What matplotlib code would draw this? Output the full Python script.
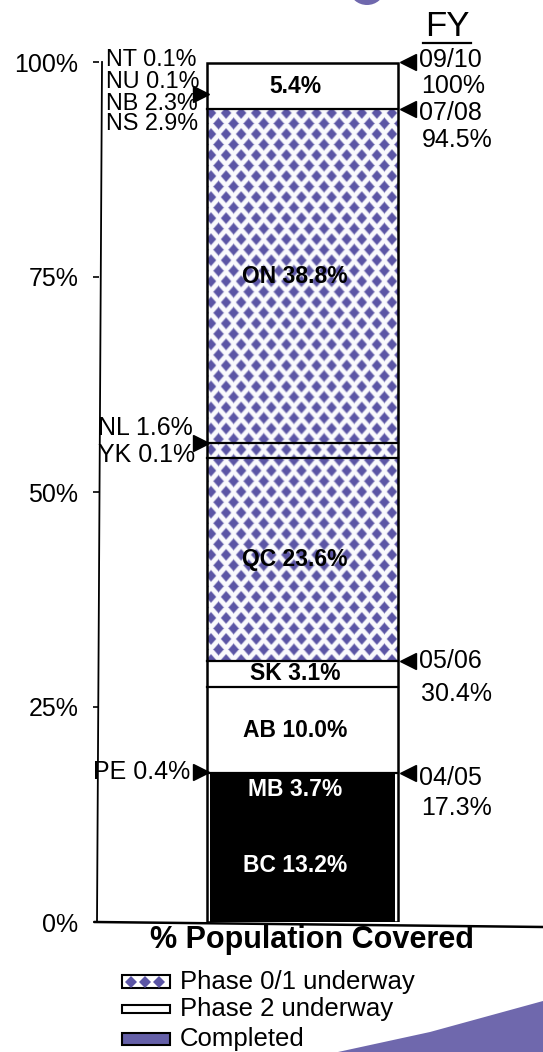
import numpy as np
import matplotlib
matplotlib.use("Agg")
import matplotlib.pyplot as plt
from matplotlib.lines import Line2D
from matplotlib.patches import Rectangle, Polygon, Ellipse

plt.rcParams["font.family"] = ["Liberation Sans", "DejaVu Sans"]

W, H, DPI = 543, 1052, 100
PURPLE = "#5b55a5"
SWOOSH = "#6f68ad"

# stacked bar, bottom to top
provinces = ["BC", "PE", "MB", "AB", "SK", "QC", "YK", "NL", "ON",
             "NS", "NB", "NU", "NT"]
share = [13.2, 0.4, 3.7, 10.0, 3.1, 23.6, 0.1, 1.6, 38.8, 2.9, 2.3, 0.1, 0.1]
status = ["done", "done", "done", "p2", "p2", "p01", "p01", "p01", "p01",
          "p2", "p2", "p2", "p2"]
block = [0, 0, 0, 1, 2, 3, 4, 4, 5, 6, 6, 6, 6]
inside = ["BC", "MB", "AB", "SK", "QC", "ON"]

fy_names = ["04/05", "05/06", "07/08", "09/10"]
fy_cum = [17.3, 30.4, 94.5, 100.0]

yticks = [0, 25, 50, 75, 100]


def fx(px):
    return px / W


def fy(py):
    return 1 - py / H


share = np.array(share)
cum = np.cumsum(share)
bottoms = cum - share

fig = plt.figure(figsize=(W / DPI, H / DPI), dpi=DPI)
fig.patch.set_facecolor("white")
ax = fig.add_axes([fx(99), fy(922), (W - 99) / W, (922 - 62) / H])
ax.set_facecolor("none")

BAR_X, BAR_W = 0.4583, 0.4302
x0, x1 = BAR_X - BAR_W / 2, BAR_X + BAR_W / 2

# solid segments
for i, name in enumerate(provinces):
    if status[i] == "done":
        ax.bar(BAR_X, share[i], bottom=bottoms[i], width=BAR_W - 0.014,
               color="black", linewidth=0, zorder=2)
    elif status[i] == "p2":
        ax.bar(BAR_X, share[i], bottom=bottoms[i], width=BAR_W,
               color="white", linewidth=0, zorder=2)

# diamond texture over the phase 0/1 run
p01 = [i for i, s in enumerate(status) if s == "p01"]
y0, y1 = bottoms[p01[0]], cum[p01[-1]]
hpx = int(round((y1 - y0) / 100 * 860))
wpx = 191
yy, xx = np.mgrid[0:hpx, 0:wpx] + 0.5


def _dist(ox, oy, px=15.0, py=21.0, a=5.2, b=5.8):
    dx = (xx - ox + px / 2) % px - px / 2
    dy = (yy - oy + py / 2) % py - py / 2
    return np.abs(dx) / a + np.abs(dy) / b


d = np.minimum(_dist(4.0, 4.0), _dist(11.5, 14.5))
cov = np.clip((1 - d) * 3.0 + 0.5, 0, 1)[..., None]
bg = np.array([250, 250, 253]) / 255
fg = np.array(matplotlib.colors.to_rgb(PURPLE))
tex = bg * (1 - cov) + fg * cov
ax.imshow(tex, extent=[x0, x1, y0, y1], aspect="auto",
          interpolation="bilinear", zorder=1)

# block dividers and outer frame
for b in sorted(set(block))[:-1]:
    top = cum[max(i for i, v in enumerate(block) if v == b)]
    ax.plot([x0, x1], [top, top], color="black", lw=1.6, zorder=4)
ax.bar(BAR_X, cum[-1], width=BAR_W, fill=False, edgecolor="black",
       linewidth=1.8, zorder=5)

# labels inside the bar
for i, name in enumerate(provinces):
    if name in inside:
        col = "white" if status[i] == "done" else "black"
        ax.text(0.442, bottoms[i] + share[i] / 2, f"{name} {share[i]:.1f}%",
                ha="center", va="center", fontsize=16.5, fontweight="bold",
                color=col, zorder=6)
top_idx = [i for i, v in enumerate(block) if v == block[-1]]
ax.text(0.442, (bottoms[top_idx[0]] + cum[top_idx[-1]]) / 2,
        f"{share[top_idx].sum():.1f}%", ha="center", va="center",
        fontsize=16.5, fontweight="bold", zorder=6)

# fiscal-year milestones on the right (pixel offsets from each arrow)
name_dy = [-5, 0, -4, 2]
pct_dy = [-35, -33, -31, -24]
for k, (name, v) in enumerate(zip(fy_names, fy_cum)):
    ax.plot([0.697], [v], marker="<", ms=11, color="black", clip_on=False,
            zorder=6)
    ax.annotate(name, xy=(0.697, v), xytext=(11, name_dy[k]),
                textcoords="offset pixels", ha="left", va="center",
                fontsize=18, annotation_clip=False)
    ax.annotate(f"{v:g}%", xy=(0.697, v), xytext=(13, pct_dy[k]),
                textcoords="offset pixels", ha="left", va="center",
                fontsize=18, annotation_clip=False)

# axes
ax.set_xlim(0, 1)
ax.set_ylim(0, 100)
for s in ax.spines.values():
    s.set_visible(False)
ax.plot([0.0068, -0.0045], [1.0, 0.0], color="black", lw=1.3,
        transform=ax.transAxes, clip_on=False)
ax.plot([-0.009, 1.0], [0.0, -0.0058], color="black", lw=1.8,
        transform=ax.transAxes, clip_on=False)
ax.set_xticks([])
ax.set_yticks(yticks)
ax.set_yticklabels([f"{t}%" for t in yticks])
ax.tick_params(axis="y", direction="out", length=4, width=1.2, pad=11,
               labelsize=18)

# province call-outs on the left
names = {n: i for i, n in enumerate(provinces)}
left_groups = [
    (["NT", "NU", "NB", "NS"], [59, 81, 103, 124], 106, 16.8, 94),
    (["NL", "YK"], [428, 455], 98, 18, 443),
    (["PE"], [772], 93, 18, 772),
]
for grp, ys, xl, fs, ay in left_groups:
    for n, py in zip(grp, ys):
        fig.text(fx(xl), fy(py), f"{n} {share[names[n]]:.1f}%", ha="left",
                 va="center", fontsize=fs)
    fig.add_artist(Line2D([fx(201)], [fy(ay)], marker=">", ms=11,
                          color="black", transform=fig.transFigure))

# header and axis caption
fig.text(fx(447), fy(27), "FY", ha="center", va="center", fontsize=25)
fig.add_artist(Line2D([fx(423), fx(471)], [fy(43), fy(43)], lw=1.6,
                      color="black", transform=fig.transFigure))
fig.text(fx(312), fy(940), "% Population Covered", ha="center", va="center",
         fontsize=22, fontweight="bold")

# legend
leg = [("Phase 0/1 underway", 975, 988, "white"),
       ("Phase 2 underway", 1005, 1013, "white"),
       ("Completed", 1033, 1045, "#6560a8")]
for k, (lab, ta, tb, fc) in enumerate(leg):
    fig.add_artist(Rectangle((fx(122), fy(tb)), (170 - 122) / W, (tb - ta) / H,
                             facecolor=fc, edgecolor="black", lw=1.5,
                             transform=fig.transFigure))
    if k == 0:
        for cx in (131, 145, 159):
            fig.add_artist(Line2D([fx(cx)], [fy((ta + tb) / 2)], marker="D",
                                  ms=6, color=PURPLE, mew=0,
                                  transform=fig.transFigure))
    fig.text(fx(180), fy((ta + tb) / 2), lab, ha="left", va="center",
             fontsize=18.5)

# decorative corner shapes
fig.add_artist(Polygon([(fx(338), fy(1052)), (fx(430), fy(1032)),
                        (fx(543), fy(1001)), (fx(543), fy(1052))],
                       closed=True, facecolor=SWOOSH, edgecolor="none",
                       transform=fig.transFigure))
fig.add_artist(Ellipse((fx(367), fy(-10)), 34 / W, 30 / H, facecolor=SWOOSH,
                       edgecolor="none", transform=fig.transFigure))

fig.savefig("out.png", dpi=DPI, facecolor="white")
